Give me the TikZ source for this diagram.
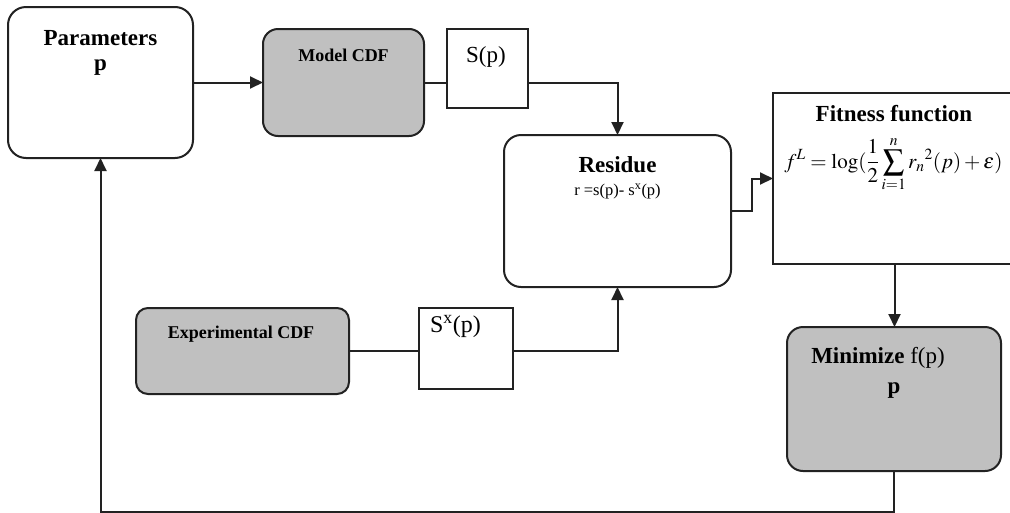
\documentclass[tikz,border=0pt]{standalone}
\usepackage{mathptmx}
\usepackage[no-math]{fontspec}
\setmainfont{Liberation Serif}
\usetikzlibrary{arrows.meta}
\definecolor{boxgray}{HTML}{C0C0C0}
\definecolor{linec}{HTML}{222222}
\begin{document}
\begin{tikzpicture}[x=1pt,y=-1pt,
  box/.style={draw=linec, line width=2pt, inner sep=0pt, outer sep=0pt, fill=white},
  rbox/.style={box, rounded corners=#1},
  gbox/.style={box, rounded corners=#1, fill=boxgray},
  conn/.style={draw=linec, line width=2pt},
  arr/.style={conn, -{Triangle[length=13pt,width=12pt]}},
  big/.style={anchor=base, inner sep=0pt, font=\fontsize{23}{27}\selectfont},
  bigb/.style={big, font=\fontsize{23}{27}\selectfont\bfseries},
  smallb/.style={anchor=base, inner sep=0pt, font=\fontsize{18}{21}\selectfont\bfseries},
  tiny/.style={anchor=base, inner sep=0pt, font=\fontsize{16.5}{19}\selectfont}]
\useasboundingbox (0,0) rectangle (1010,512);
\clip (0,0) rectangle (1010,512);
\fill[white] (0,0) rectangle (1010,512);

% boxes
\node[rbox=18pt, minimum width=185pt, minimum height=151pt] (param) at (100.5,82.5) {};
\node[gbox=15pt, minimum width=161pt, minimum height=107pt] (model) at (343.5,82.5) {};
\node[box, minimum width=81pt, minimum height=79pt] (sp) at (487.5,68.5) {};
\node[rbox=17pt, minimum width=227pt, minimum height=152pt] (res) at (617.5,211) {};
\node[box, minimum width=243pt, minimum height=171pt] (fit) at (894.5,178.5) {};
\node[gbox=16pt, minimum width=214pt, minimum height=144pt] (mini) at (894,399) {};
\node[gbox=12pt, minimum width=213pt, minimum height=86pt] (exp) at (242.5,351) {};
\node[box, minimum width=94pt, minimum height=81pt] (sxp) at (466,348.5) {};
\coordinate (bot) at (0,512);

% texts
\node[bigb] (tparam) at (100.5,45) {Parameters};
\node[bigb] (tparamp) at (100.5,70) {p};
\node[smallb] (tmodel) at (343.5,61) {Model CDF};
\node[big] (tsp) at (486,62) {S(p)};
\node[bigb] (tres) at (617.5,172) {Residue};
\node[tiny] (tresf) at (617.5,195) {r =s(p)- s\textsuperscript{x}(p)};
\node[bigb] (tfit) at (894,121) {Fitness function};
\node[anchor=base, inner sep=0pt] (tfitf) at (893.5,168) {\fontsize{21}{24}\selectfont $\displaystyle f^{L} = \log(\frac{1}{2}\sum_{i=1}^{n} r_n{}^{2}(p)+\varepsilon)$};
\node[bigb] (tmin) at (878,363) {Minimize \mdseries f(p)};
\node[bigb] (tminp) at (894,393) {p};
\node[smallb] (texp) at (241,338) {Experimental CDF};
\node[big] (tsxp) at (455.5,332) {\fontsize{24}{28}\selectfont S\textsuperscript{x}(p)};

% connectors
\draw[arr] (param) -- (model);
\draw[conn] (model.east) -- (model.east -| sp.west);
\draw[arr] (sp.east |- model.east) -| (res.north);
\draw[conn] (exp.east) -- (exp.east -| sxp.west);
\draw[arr] (sxp.east |- exp.east) -| (res.south);
\draw[arr] (res.east) -- ++(21,0) |- (fit.west);
\draw[arr] (fit.south) -- (fit.south |- mini.north);
\draw[arr] (mini.south) -- (mini.south |- bot) -| (param.south);
\end{tikzpicture}
\end{document}
